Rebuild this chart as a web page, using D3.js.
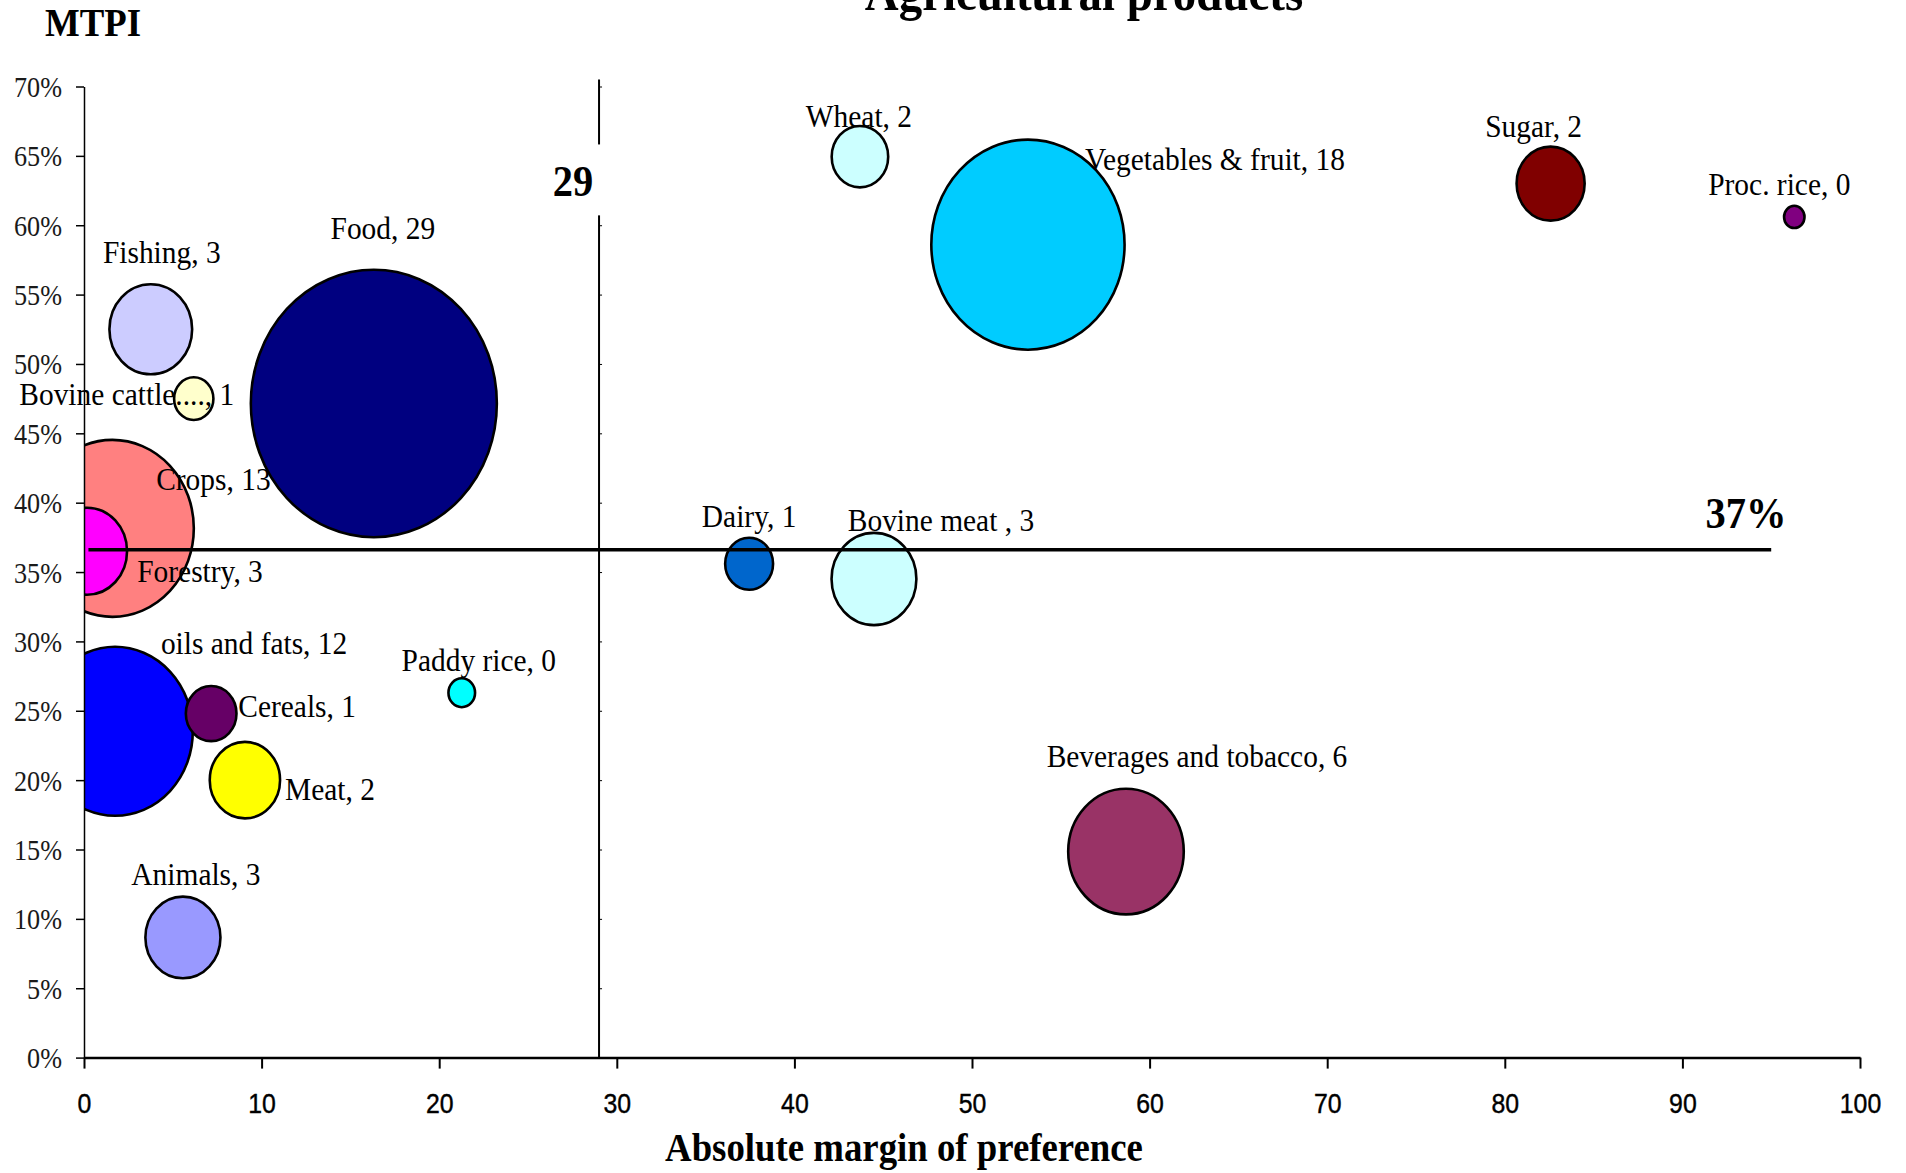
<!DOCTYPE html>
<html>
<head>
<meta charset="utf-8">
<script src="https://cdn.jsdelivr.net/npm/d3@7"></script>
<style>
  html, body { margin: 0; padding: 0; background: #fff; }
  svg { display: block; }
</style>
</head>
<body>
<svg id="chart" width="1906" height="1173"></svg>
<script>
// ---- Data: agricultural product groups ----
const sectors = [
  "Food", "Vegetables & fruit", "Crops", "oils and fats", "Beverages and tobacco",
  "Bovine meat ", "Fishing", "Forestry", "Animals", "Meat", "Sugar", "Wheat",
  "Cereals", "Dairy", "Bovine cattle....", "Paddy rice", "Proc. rice"
];
// absolute margin of preference (x)
const margins = [16.32, 53.15, 1.6, 1.75, 58.67, 44.48, 3.76, 0.17, 5.57, 9.06, 82.58, 43.69, 7.16, 37.45, 6.18, 21.27, 96.3];
// MTPI (y)
const mtpi = [0.4715, 0.586, 0.3815, 0.2352, 0.1485, 0.345, 0.525, 0.365, 0.0866, 0.20, 0.63, 0.6494, 0.248, 0.356, 0.475, 0.263, 0.606];
// bubble size (share)
const shares = [29, 17.9, 12.7, 11.58, 6.4, 3.45, 3.28, 3.07, 2.70, 2.37, 2.22, 1.53, 1.23, 1.10, 0.74, 0.34, 0.20];
const colors = [
  "#000080", "#00CCFF", "#FF8080", "#0000FF", "#993366",
  "#CCFFFF", "#CCCCFF", "#FF00FF", "#9999FF", "#FFFF00", "#800000", "#CCFFFF",
  "#660066", "#0066CC", "#FFFFCC", "#00FFFF", "#800080"
];
const xTicks = d3.range(0, 101, 10);
const yTicks = d3.range(0, 14.5).map(i => i * 0.05);
const marginThreshold = 29;
const mtpiThreshold = 0.366;
const mtpiLineSpan = [0.25, 95];
const marginLineTop = 0.705;

// ---- Layout ----
// label anchor offsets (px) from each bubble centre
const labelOffsets = [
  [9, -164], [187, -75], [101, -38], [139, -77], [71, -85],
  [67, -48], [11, -66], [113, 31], [13, -52], [85, 20], [-17, -47], [-1, -30],
  [86, 3], [0, -37], [-67, 6], [17, -22], [-15, -22]
];
const SQ = 0.92;                 // horizontal squeeze of the whole drawing
const serif = "'Liberation Serif', 'Times New Roman', serif";
const sans = "'Liberation Sans', Arial, sans-serif";

const svg = d3.select("#chart");
const x = d3.scaleLinear().domain([0, 100]).range([84, 1860]);
const y = d3.scaleLinear().domain([0, 0.7]).range([1057.6, 86.5]);
const r = d3.scaleSqrt().domain([0, 29]).range([0, 133.7]);

const fmtInt = d3.format(".0f");
const fmtPct = d3.format(".0%");

function squeezedText(parent, px, py, str, size, weight, anchor) {
  return parent.append("text")
    .attr("transform", `translate(${px},${py}) scale(${SQ},1)`)
    .attr("text-anchor", anchor || "middle")
    .style("font-family", serif)
    .style("font-size", size + "px")
    .style("font-weight", weight || "normal")
    .attr("fill", "#000")
    .text(str);
}

const rows = sectors.map((name, i) => ({
  name, mx: margins[i], my: mtpi[i], size: shares[i], color: colors[i], off: labelOffsets[i]
}));

// ---- Bubbles (clipped to plot area) ----
svg.append("defs").append("clipPath").attr("id", "plot")
  .append("rect")
  .attr("x", x(0)).attr("y", 0)
  .attr("width", x(100) - x(0)).attr("height", y(0));

svg.append("g").attr("clip-path", "url(#plot)")
  .selectAll("ellipse")
  .data(rows.slice().sort((a, b) => b.size - a.size))
  .join("ellipse")
  .attr("cx", d => x(d.mx))
  .attr("cy", d => y(d.my))
  .attr("rx", d => r(d.size) * SQ)
  .attr("ry", d => r(d.size))
  .attr("fill", d => d.color)
  .attr("stroke", "#000")
  .attr("stroke-width", 2.6);

// ---- Axes ----
const gx = svg.append("g")
  .attr("transform", `translate(0,${y(0)})`)
  .call(d3.axisBottom(x).tickValues(xTicks).tickSize(11).tickSizeOuter(0).tickFormat(d3.format("d")));
gx.select(".domain").attr("stroke", "#000").attr("stroke-width", 2.5);
gx.selectAll(".tick line").attr("stroke", "#000").attr("stroke-width", 2);
gx.selectAll(".tick text")
  .attr("y", null).attr("dy", null)
  .attr("transform", `translate(0,55) scale(${SQ},1)`)
  .attr("fill", "#000")
  .attr("stroke", "#000").attr("stroke-width", 0.4)
  .style("font-family", sans).style("font-size", "27px");

const gy = svg.append("g")
  .attr("transform", `translate(${x(0)},0)`)
  .call(d3.axisLeft(y).tickValues(yTicks).tickSize(8).tickSizeOuter(0).tickFormat(fmtPct));
gy.select(".domain").attr("stroke", "#000").attr("stroke-width", 1.5);
gy.selectAll(".tick line").attr("stroke", "#000").attr("stroke-width", 1.5);
gy.selectAll(".tick text")
  .attr("x", null).attr("dy", null)
  .attr("transform", `translate(-22,10) scale(${SQ},1)`)
  .attr("text-anchor", "end")
  .attr("fill", "#1a1a1a")
  .style("font-family", serif).style("font-size", "28.5px");

// ---- Threshold lines ----
svg.append("line")
  .attr("x1", x(marginThreshold)).attr("x2", x(marginThreshold))
  .attr("y1", y(0)).attr("y2", y(marginLineTop))
  .attr("stroke", "#000").attr("stroke-width", 2);

const gv = svg.append("g")
  .attr("transform", `translate(${x(marginThreshold)},0)`)
  .call(d3.axisRight(y).tickValues(yTicks).tickSize(3).tickFormat(""));
gv.select(".domain").remove();
gv.selectAll(".tick line").attr("stroke", "#000").attr("stroke-width", 1);

svg.append("line")
  .attr("x1", x(mtpiLineSpan[0])).attr("x2", x(mtpiLineSpan[1]))
  .attr("y1", y(mtpiThreshold)).attr("y2", y(mtpiThreshold))
  .attr("stroke", "#000").attr("stroke-width", 3.5);

// "29" label with a white box that breaks the vertical line
const g29 = svg.append("g");
const bg29 = g29.append("rect").attr("fill", "#fff");
const t29 = squeezedText(g29, x(marginThreshold) - 26, 196, d3.format("d")(marginThreshold), 44, "bold");
const b29 = t29.node().getBBox();
const left29 = x(marginThreshold) - 26 - b29.width * SQ / 2;
bg29.attr("x", left29 - 4).attr("y", b29.y + 196 - 12)
  .attr("width", b29.width * SQ + 18).attr("height", b29.height + 22);

squeezedText(svg, 1746, 528, fmtPct(mtpiThreshold), 44, "bold");

// ---- Bubble labels ----
const gl = svg.append("g");
rows.forEach(d => {
  squeezedText(gl, x(d.mx) + d.off[0], y(d.my) + d.off[1], `${d.name}, ${fmtInt(d.size)}`, 32);
});

// ---- Titles ----
squeezedText(svg, 1084, 10, "Agricultural products", 51, "bold");
squeezedText(svg, 45, 36, "MTPI", 40, "bold", "start");
squeezedText(svg, 904, 1161, "Absolute margin of preference", 40, "bold");
</script>
</body>
</html>
